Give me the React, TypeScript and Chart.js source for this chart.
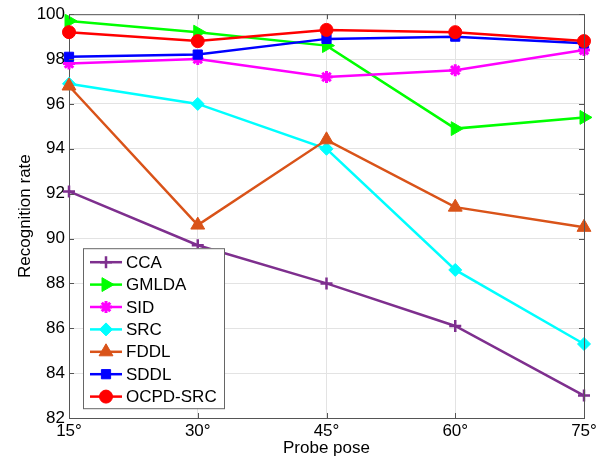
import React, { useEffect, useRef } from 'react';
import { Chart, registerables } from 'chart.js';
import { drawPoint } from 'chart.js/helpers';

Chart.register(...registerables);

const categories = ['15°', '30°', '45°', '60°', '75°'];
const ccaValues = [92.1, 89.7, 88.0, 86.1, 83.0];
const gmldaValues = [99.7, 99.2, 98.6, 94.9, 95.4];
const sidValues = [97.8, 98.0, 97.2, 97.5, 98.4];
const srcValues = [96.9, 96.0, 94.0, 88.6, 85.3];
const fddlValues = [96.8, 90.6, 94.4, 91.4, 90.5];
const sddlValues = [98.1, 98.2, 98.9, 99.0, 98.7];
const ocpdValues = [99.2, 98.8, 99.3, 99.2, 98.8];
const seriesNames = ['CCA', 'GMLDA', 'SID', 'SRC', 'FDDL', 'SDDL', 'OCPD-SRC'];
const yMin = 82;
const yMax = 100;
const yStep = 2;

const FONT = "'Liberation Sans', Arial, Helvetica, sans-serif";

const seriesStyles = [
  { color: '#7E2F8E', pointStyle: 'cross', radius: 6, rotation: 0, pointBorder: 2.5 },
  { color: '#00FF00', pointStyle: 'triangle', radius: 8, rotation: 90, pointBorder: 1 },
  { color: '#FF00FF', pointStyle: 'star', radius: 6, rotation: 0, pointBorder: 3 },
  { color: '#00FFFF', pointStyle: 'rectRot', radius: 6.5, rotation: 0, pointBorder: 1 },
  { color: '#D95319', pointStyle: 'triangle', radius: 8, rotation: 0, pointBorder: 1 },
  { color: '#0000FF', pointStyle: 'rect', radius: 6.5, rotation: 0, pointBorder: 1 },
  { color: '#FF0000', pointStyle: 'circle', radius: 6.5, rotation: 0, pointBorder: 1 },
];

const allValues = [ccaValues, gmldaValues, sidValues, srcValues, fddlValues, sddlValues, ocpdValues];

const boxPlugin = {
  id: 'matlabBox',
  afterDraw(chart: any) {
    const { ctx, chartArea } = chart;
    const { left, right, top, bottom } = chartArea;
    ctx.save();
    ctx.strokeStyle = '#555555';
    ctx.lineWidth = 1;
    ctx.beginPath();
    ctx.moveTo(left + 0.5, top + 0.5);
    ctx.lineTo(right + 0.5, top + 0.5);
    ctx.lineTo(right + 0.5, bottom + 0.5);
    ctx.stroke();
    // inward tick marks
    const ys = chart.scales.y;
    const xs = chart.scales.x;
    ctx.beginPath();
    for (let v = yMin; v <= yMax; v += yStep) {
      const py = Math.round(ys.getPixelForValue(v)) + 0.5;
      ctx.moveTo(left, py);
      ctx.lineTo(left + 5, py);
      ctx.moveTo(right, py);
      ctx.lineTo(right - 5, py);
    }
    for (let i = 0; i < categories.length; i++) {
      const px = Math.round(xs.getPixelForValue(i)) + 0.5;
      ctx.moveTo(px, bottom);
      ctx.lineTo(px, bottom - 5);
      ctx.moveTo(px, top);
      ctx.lineTo(px, top + 5);
    }
    ctx.stroke();

    // legend
    const bx = left + 14;
    const by = top + 234;
    const bw = 141;
    const bh = 160;
    ctx.fillStyle = '#ffffff';
    ctx.fillRect(bx, by, bw, bh);
    ctx.strokeStyle = '#666666';
    ctx.strokeRect(bx + 0.5, by + 0.5, bw, bh);
    ctx.font = `17px ${FONT}`;
    ctx.textBaseline = 'middle';
    ctx.textAlign = 'left';
    for (let i = 0; i < seriesNames.length; i++) {
      const st = seriesStyles[i];
      const cy = by + 14 + i * 22.4;
      ctx.strokeStyle = st.color;
      ctx.lineWidth = 2.5;
      ctx.beginPath();
      ctx.moveTo(bx + 7, cy);
      ctx.lineTo(bx + 39, cy);
      ctx.stroke();
      ctx.fillStyle = st.color;
      ctx.strokeStyle = st.color;
      ctx.lineWidth = st.pointBorder;
      drawPoint(ctx, { pointStyle: st.pointStyle, rotation: st.rotation, radius: st.radius, borderWidth: st.pointBorder }, bx + 23, cy);
      ctx.fillStyle = '#000000';
      ctx.fillText(seriesNames[i], bx + 43, cy + 1);
    }
    ctx.restore();
  },
};

export default function App() {
  const canvasRef = useRef<HTMLCanvasElement>(null);

  useEffect(() => {
    if (!canvasRef.current) return;
    const datasets = seriesNames.map((name, i) => {
      const st = seriesStyles[i];
      return {
        label: name,
        data: allValues[i],
        borderColor: st.color,
        backgroundColor: st.color,
        borderWidth: 2.5,
        pointStyle: st.pointStyle as any,
        pointRadius: st.radius,
        pointRotation: st.rotation,
        pointBorderWidth: st.pointBorder,
        pointBackgroundColor: st.color,
        pointBorderColor: st.color,
        tension: 0,
        fill: false,
        order: seriesNames.length - i,
      };
    });
    const chart = new Chart(canvasRef.current, {
      type: 'line',
      data: { labels: categories, datasets },
      options: {
        animation: false,
        responsive: false,
        maintainAspectRatio: false,
        layout: { padding: { top: 13, right: 27, left: 0, bottom: 0 } },
        plugins: {
          legend: { display: false },
          tooltip: { enabled: false },
        },
        scales: {
          x: {
            offset: false,
            grid: { color: '#e3e3e3', drawTicks: false },
            border: { display: true, color: '#555555', width: 1 },
            ticks: { color: '#000000', font: { family: FONT, size: 17 }, padding: 3, maxRotation: 0 },
            title: { display: true, text: 'Probe pose', color: '#000000', font: { family: FONT, size: 17 }, padding: { top: 0, bottom: 0 } },
            afterFit: (s: any) => { s.height = 41; },
          },
          y: {
            min: yMin,
            max: yMax,
            grid: { color: '#e3e3e3', drawTicks: false },
            border: { display: true, color: '#555555', width: 1 },
            ticks: { stepSize: yStep, color: '#000000', font: { family: FONT, size: 17 }, padding: 4 },
            title: { display: true, text: 'Recognition rate', color: '#000000', font: { family: FONT, size: 17 }, padding: { top: 15, bottom: 0 } },
            afterFit: (s: any) => { s.width = 69; },
          },
        },
      },
      plugins: [boxPlugin],
    });
    return () => chart.destroy();
  }, []);

  return (
    <div style={{ position: 'fixed', left: 0, top: 0, width: 611, height: 459, background: '#ffffff' }}>
      <canvas ref={canvasRef} width={611} height={459} style={{ width: 611, height: 459 }} />
    </div>
  );
}
